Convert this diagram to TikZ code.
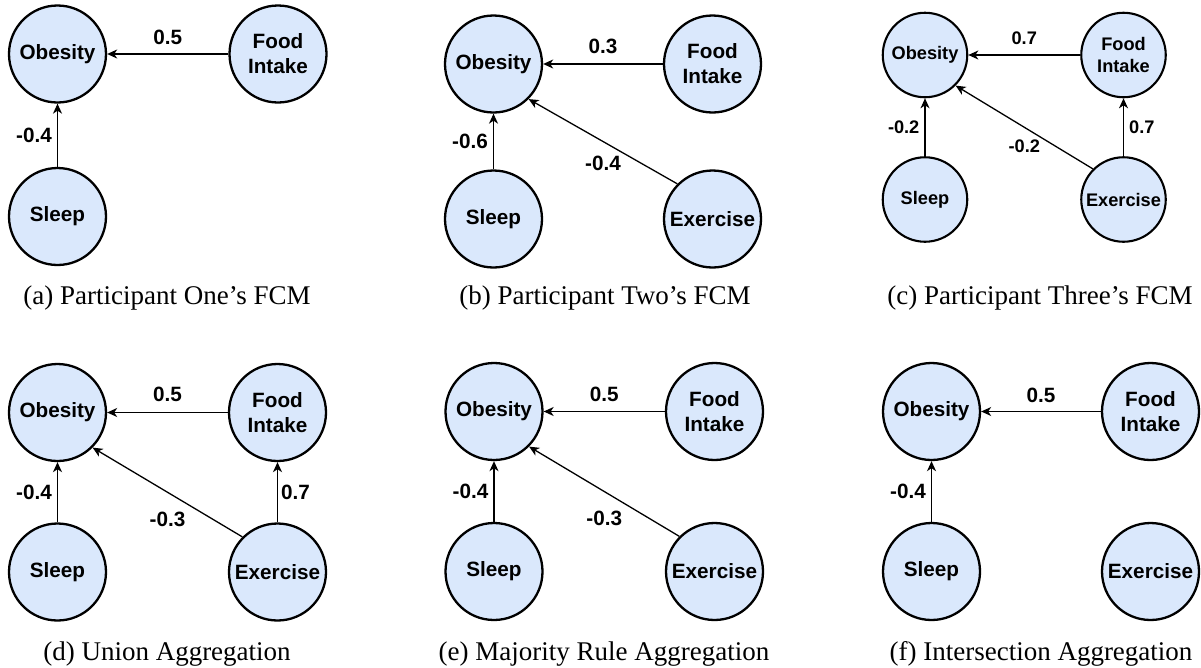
\documentclass[tikz,border=0pt]{standalone}
\usepackage{fontspec}
\setmainfont{Liberation Serif}
\newfontfamily\nodesans{Liberation Sans}
\usetikzlibrary{arrows.meta}
\definecolor{fcmblue}{HTML}{DAE8FC}
\begin{document}
\begin{tikzpicture}[x=1pt,y=-1pt,
  fcm/.style={circle, draw=black, fill=fcmblue, line width=2.3pt, minimum size=97pt, inner sep=0pt, align=center, font={\nodesans\bfseries\fontsize{20.7}{25}\selectfont}},
  fcmsmall/.style={fcm, line width=2.1pt, minimum size=84.5pt, font={\nodesans\bfseries\fontsize{18.2}{22}\selectfont}},
  link/.style={line width=1.3pt, -{Stealth[length=10pt,width=9pt,inset=3pt]}},
  lbl/.style={font={\nodesans\bfseries\fontsize{20.7}{25}\selectfont}, inner sep=0pt},
  lblsmall/.style={lbl, font={\nodesans\bfseries\fontsize{18.2}{22}\selectfont}},
  captext/.style={font={\fontsize{27}{32}\selectfont}, inner sep=0pt}
]
\useasboundingbox (0,0) rectangle (1201,667);

% (a)
\node[fcm] (aob) at (57.5,54) {Obesity};
\node[fcm] (afi) at (278,54) {Food\\Intake};
\node[fcm] (asl) at (57.5,216.5) {Sleep};
\draw[link] (afi.west) -- node[lbl, above=9pt] {0.5} (aob.east);
\draw[link] (asl.north) -- node[lbl, left=5pt] {-0.4} (aob.south);
\node[captext] (acap) at (167,298) {(a) Participant One’s FCM};

% (b)
\node[fcm] (bob) at (493.5,64) {Obesity};
\node[fcm] (bfi) at (712.5,64) {Food\\Intake};
\node[fcm] (bsl) at (493.5,219) {Sleep};
\node[fcm] (bex) at (712.5,219) {Exercise};
\draw[link] (bfi.west) -- node[lbl, above=10pt] {0.3} (bob.east);
\draw[link] (bsl.north) -- node[lbl, left=5pt] {-0.6} (bob.south);
\draw[link] (bex.135) -- node[lbl, below=14pt] {-0.4} (bob.-45);
\node[captext] (bcap) at (605,298) {(b) Participant Two’s FCM};

% (c)
\node[fcmsmall] (cob) at (925,55) {Obesity};
\node[fcmsmall] (cfi) at (1123.5,55) {Food\\Intake};
\node[fcmsmall] (csl) at (925,199.5) {Sleep};
\node[fcmsmall] (cex) at (1123.5,199.5) {Exercise};
\draw[link] (cfi.west) -- node[lblsmall, above=10pt] {0.7} (cob.east);
\draw[link] (csl.north) -- node[lblsmall, left=5pt] {-0.2} (cob.south);
\draw[link] (cex.135) -- node[lblsmall, below=12pt] {-0.2} (cob.-45);
\draw[link] (cex.north) -- node[lblsmall, right=5pt] {0.7} (cfi.south);
\node[captext] (ccap) at (1040,298) {(c) Participant Three’s FCM};

% (d)
\node[fcm] (dob) at (57.5,412.5) {Obesity};
\node[fcm] (dfi) at (277.5,412.5) {Food\\Intake};
\node[fcm] (dsl) at (57.5,572) {Sleep};
\node[fcm] (dex) at (277.5,572) {Exercise};
\draw[link] (dfi.west) -- node[lbl, above=10pt] {0.5} (dob.east);
\draw[link] (dsl.north) -- node[lbl, left=5pt] {-0.4} (dob.south);
\draw[link] (dex.135) -- node[lbl, below=19pt] {-0.3} (dob.-45);
\draw[link] (dex.north) -- node[lbl, right=3pt] {0.7} (dfi.south);
\node[captext] (dcap) at (167,654) {(d) Union Aggregation};

% (e)
\node[fcm] (eob) at (494,411.5) {Obesity};
\node[fcm] (efi) at (714.5,411.5) {Food\\Intake};
\node[fcm] (esl) at (494,571.5) {Sleep};
\node[fcm] (eex) at (714.5,571.5) {Exercise};
\draw[link] (efi.west) -- node[lbl, above=9pt] {0.5} (eob.east);
\draw[link] (esl.north) -- node[lbl, left=5pt] {-0.4} (eob.south);
\draw[link] (eex.135) -- node[lbl, below=19pt] {-0.3} (eob.-45);
\node[captext] (ecap) at (604,654) {(e) Majority Rule Aggregation};

% (f)
\node[fcm] (fob) at (931.5,411.5) {Obesity};
\node[fcm] (ffi) at (1150.5,411.5) {Food\\Intake};
\node[fcm] (fsl) at (931.5,571.5) {Sleep};
\node[fcm] (fex) at (1150.5,571.5) {Exercise};
\draw[link] (ffi.west) -- node[lbl, above=8pt] {0.5} (fob.east);
\draw[link] (fsl.north) -- node[lbl, left=5pt] {-0.4} (fob.south);
\node[captext] (fcap) at (1041,654) {(f) Intersection Aggregation};
\end{tikzpicture}
\end{document}
